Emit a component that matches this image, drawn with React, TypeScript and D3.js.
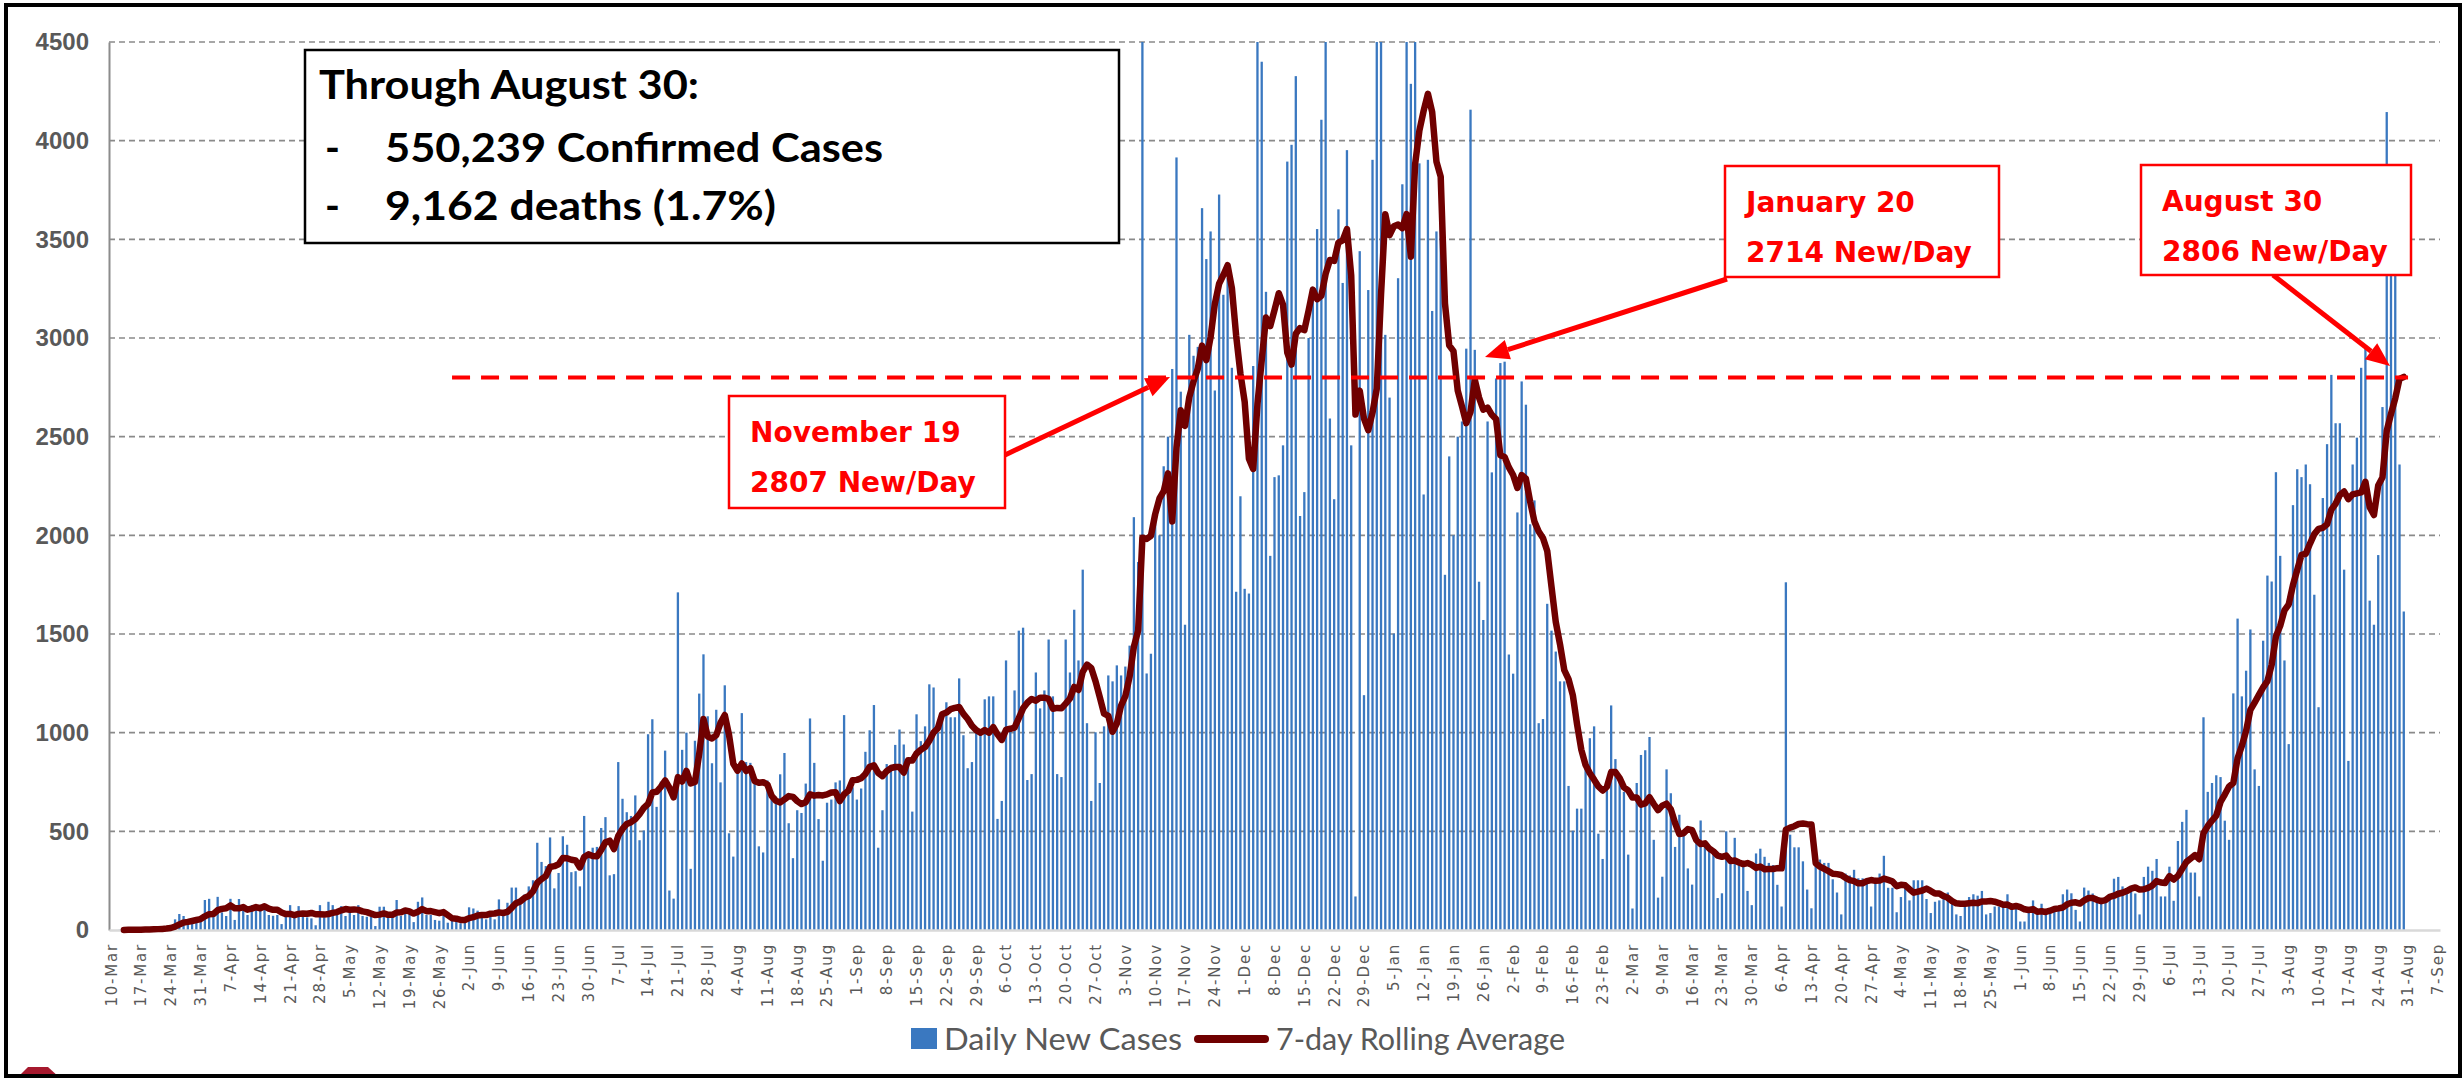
import React, { useEffect, useRef } from "react";
import * as d3 from "d3";

// Daily new cases. One row per week (Tue..Mon), first day 10-Mar-2020.
const casesMarJun2020 = [
  0, 0, 1, 1, 2, 2, 3,
  3, 4, 5, 6, 8, 10, 14,
  25, 54, 81, 71, 34, 42, 47,
  59, 152, 158, 76, 168, 89, 71,
  158, 51, 157, 118, 76, 126, 126,
  118, 121, 76, 72, 76, 30, 71,
  126, 76, 121, 88, 64, 59, 24,
  126, 64, 143, 126, 93, 121, 71,
  101, 76, 126, 71, 67, 67, 20,
  118, 118, 76, 71, 152, 71, 88,
  84, 40, 143, 165, 76, 76, 51,
  47, 76, 37, 54, 59, 34, 47,
  115, 109, 98, 71, 54, 84, 54,
];
const casesJunSep2020 = [
  155, 87, 138, 215, 215, 149, 180,
  221, 252, 442, 345, 324, 469, 211,
  289, 475, 432, 293, 298, 221, 578,
  386, 417, 421, 517, 572, 277, 283,
  851, 665, 597, 578, 682, 455, 504,
  992, 1068, 624, 752, 909, 200, 159,
  1711, 913, 1000, 310, 959, 1198, 1397,
  1083, 845, 1116, 748, 1240, 490, 372,
  841, 1099, 851, 847, 789, 424, 393,
  758, 696, 676, 789, 897, 541, 364,
  607, 593, 742, 1072, 847, 562, 351,
  645, 661, 748, 758, 1089, 686, 723,
  661, 717, 903, 1012, 1140, 417, 607,
  841, 826, 938, 1016, 940, 850, 600,
];
const casesSepDec2020 = [
  1093, 957, 1032, 1245, 1229, 1002, 1093,
  1154, 1078, 1078, 1275, 987, 820, 851,
  1002, 987, 1169, 1184, 1184, 563, 654,
  1366, 1017, 1214, 1517, 1532, 760, 790,
  1305, 1123, 1214, 1472, 1184, 790, 775,
  1472, 1305, 1623, 1366, 1826, 1048, 654,
  1002, 745, 1032, 1290, 1260, 1341, 1290,
  1335, 1441, 2092, 1865, 4550, 1300, 1400,
  2100, 2000, 2350, 2500, 2843, 3915, 2728,
  1547, 3016, 2910, 2955, 3658, 3400, 3540,
  2734, 3727, 3219, 3303, 2849, 1714, 2198,
  1729, 1705, 2858, 5600, 4400, 3234, 1896,
  2295, 2304, 2456, 3894, 3979, 4327, 2098,
  2219, 3000, 3200, 3552, 4106, 5100, 2592,
];
const casesDecMar2021 = [
  2183, 3652, 3279, 3952, 2456, 170, 3440,
  1190, 3243, 3903, 4800, 5800, 3016, 2698,
  1502, 3303, 3779, 5300, 4288, 6300, 3885,
  2207, 3903, 3137, 3540, 3754, 1800, 2400,
  2000, 2500, 2577, 2946, 4157, 2940, 1765,
  1571, 2577, 2319, 2795, 2873, 2880, 1396,
  1299, 2116, 2780, 2662, 2056, 2177, 1048,
  1069, 1653, 1517, 1411, 1260, 1260, 730,
  503, 615, 615, 866, 972, 1032, 488,
  360, 745, 1138, 866, 760, 700, 382,
  109, 745, 887, 911, 978, 457, 164,
  270, 814, 693, 421, 584, 488, 312,
  230, 457, 555, 448, 400, 388, 162,
  186, 500, 364, 467, 329, 329, 198,
];
const casesMarJun2021 = [
  126, 388, 412, 371, 340, 329, 229,
  119, 1762, 483, 419, 419, 348, 205,
  110, 388, 357, 340, 340, 257, 190,
  79, 286, 276, 305, 262, 262, 262,
  119, 257, 286, 376, 214, 214, 90,
  167, 238, 150, 252, 252, 252, 157,
  86, 143, 150, 162, 190, 138, 79,
  71, 143, 167, 181, 174, 198, 79,
  86, 119, 119, 119, 181, 119, 110,
  43, 43, 95, 150, 90, 133, 86,
  86, 102, 119, 181, 205, 186, 102,
];
const casesJunAug2021 = [
  43, 215, 200, 185, 139, 139, 139,
  154, 260, 269, 221, 200, 221, 185,
  79, 269, 321, 300, 360, 170, 170,
  321, 148, 451, 548, 609, 291, 291,
  170, 1078, 700, 745, 784, 775, 554,
  457, 1199, 1578, 1184, 1314, 1523, 814,
  730, 1466, 1796, 1766, 2320, 1896, 1366,
  942, 2153, 2335, 2295, 2359, 2259, 1699,
  1129, 2189, 2462, 2813, 2568, 2568, 1826,
  857, 2359, 2495, 2849, 2946, 1669, 1547,
  1900, 2650, 4145, 3450, 3500, 2359, 1614,
];

const dailyCases = [
  ...casesMarJun2020,
  ...casesJunSep2020,
  ...casesSepDec2020,
  ...casesDecMar2021,
  ...casesMarJun2021,
  ...casesJunAug2021,
];

const firstDay = new Date(2020, 2, 10);
const lastAxisDay = new Date(2021, 8, 7);
const yTicks = [0, 500, 1000, 1500, 2000, 2500, 3000, 3500, 4000, 4500];
const yMax = 4500;
const refLevel = 2800;
const refFrom = new Date(2020, 4, 29);
const refTo = new Date(2021, 7, 31);

const summaryTitle = "Through August 30:";
const summaryItems = ["550,239 Confirmed Cases", "9,162 deaths (1.7%)"];

const callouts = [
  { lines: ["November 19", "2807 New/Day"], box: [729, 396, 276, 112], from: [1005, 455], to: [1170, 377] },
  { lines: ["January 20", "2714 New/Day"], box: [1725, 166, 274, 111], from: [1727, 279], to: [1485, 357] },
  { lines: ["August 30", "2806 New/Day"], box: [2141, 165, 270, 110], from: [2273, 275], to: [2390, 366] },
];

const W = 2464;
const H = 1079;
const plot = { left: 109, right: 2440, top: 42, bottom: 930 };

export default function App() {
  const ref = useRef<SVGSVGElement>(null);

  useEffect(() => {
    const svg = d3.select(ref.current);
    svg.selectAll("*").remove();

    const days = d3.timeDay.range(firstDay, d3.timeDay.offset(lastAxisDay, 1));
    const fmt = d3.timeFormat("%-d-%b");
    const x = d3
      .scaleBand<number>()
      .domain(d3.range(days.length))
      .range([plot.left, plot.right])
      .paddingInner(0.46)
      .paddingOuter(0.23);
    const cx = (i: number) => (x(i) as number) + x.bandwidth() / 2;
    const y = d3.scaleLinear().domain([0, yMax]).range([plot.bottom, plot.top]);

    const rolling = dailyCases.map((_, i) =>
      i < 3 ? null : (d3.mean(dailyCases.slice(Math.max(0, i - 6), i + 1)) as number)
    );

    svg.append("rect").attr("width", W).attr("height", H).attr("fill", "#fff");

    // gridlines
    svg
      .append("g")
      .selectAll("line")
      .data(yTicks.filter((t) => t > 0))
      .join("line")
      .attr("x1", plot.left)
      .attr("x2", plot.right)
      .attr("y1", (d) => y(d))
      .attr("y2", (d) => y(d))
      .attr("stroke", "#8a8a8a")
      .attr("stroke-width", 1.6)
      .attr("stroke-dasharray", "6,4");

    // bars
    svg
      .append("g")
      .selectAll("rect")
      .data(dailyCases)
      .join("rect")
      .attr("x", (_, i) => x(i) as number)
      .attr("width", x.bandwidth())
      .attr("y", (d) => y(Math.min(d, yMax)))
      .attr("height", (d) => y(0) - y(Math.min(d, yMax)))
      .attr("fill", "#3a78c0");

    // y axis
    svg
      .append("g")
      .attr("transform", `translate(${plot.left},0)`)
      .call(
        d3
          .axisLeft(y)
          .tickValues(yTicks)
          .tickFormat(d3.format("d"))
          .tickSize(0)
          .tickSizeOuter(0)
          .tickPadding(20)
      )
      .call((g) => g.select(".domain").attr("stroke", "#8c8c8c").attr("stroke-width", 2))
      .call((g) =>
        g
          .selectAll("text")
          .attr("font-family", "Liberation Sans, Arial, sans-serif")
          .attr("font-weight", "bold")
          .attr("font-size", 24)
          .attr("fill", "#595959")
      );

    // x axis
    svg
      .append("g")
      .attr("transform", `translate(0,${plot.bottom})`)
      .call(
        d3
          .axisBottom(x)
          .tickValues(d3.range(0, days.length, 7))
          .tickFormat((i) => fmt(days[i as number]))
          .tickSize(0)
          .tickSizeOuter(0)
      )
      .call((g) => g.select(".domain").attr("stroke", "#d9d9d9").attr("stroke-width", 2.5))
      .call((g) =>
        g
          .selectAll("text")
          .attr("transform", "rotate(-90)")
          .attr("x", -13)
          .attr("y", 0)
          .attr("dy", "0.36em")
          .attr("text-anchor", "end")
          .attr("font-family", "DejaVu Sans, Verdana, sans-serif")
          .attr("font-size", 15)
          .attr("letter-spacing", 1.8)
          .attr("fill", "#595959")
      );

    // rolling average
    const line = d3
      .line<number | null>()
      .defined((d) => d !== null)
      .x((_, i) => cx(i))
      .y((d) => y(d as number));
    svg
      .append("path")
      .datum(rolling)
      .attr("d", line)
      .attr("fill", "none")
      .attr("stroke", "#700000")
      .attr("stroke-width", 6.5)
      .attr("stroke-linejoin", "round")
      .attr("stroke-linecap", "round");

    // reference level
    const iFrom = d3.timeDay.count(firstDay, refFrom);
    const iTo = d3.timeDay.count(firstDay, refTo);
    svg
      .append("line")
      .attr("x1", cx(iFrom))
      .attr("x2", cx(iTo))
      .attr("y1", y(refLevel))
      .attr("y2", y(refLevel))
      .attr("stroke", "#ff0000")
      .attr("stroke-width", 4)
      .attr("stroke-dasharray", "18,11");

    // summary box
    const sb = svg.append("g");
    sb.append("rect")
      .attr("x", 305)
      .attr("y", 50)
      .attr("width", 814)
      .attr("height", 193)
      .attr("fill", "#fff")
      .attr("stroke", "#000")
      .attr("stroke-width", 2.5);
    const sf = "Lato, Liberation Sans, sans-serif";
    sb.append("text")
      .attr("x", 319)
      .attr("y", 99)
      .attr("font-family", sf)
      .attr("font-weight", "bold")
      .attr("font-size", 40)
      .attr("textLength", 380)
      .attr("lengthAdjust", "spacingAndGlyphs")
      .text(summaryTitle);
    summaryItems.forEach((t, k) => {
      const by = 162 + k * 58;
      sb.append("text")
        .attr("x", 325)
        .attr("y", by)
        .attr("font-family", sf)
        .attr("font-weight", "bold")
        .attr("font-size", 40)
        .text("-");
      sb.append("text")
        .attr("x", 385)
        .attr("y", by)
        .attr("font-family", sf)
        .attr("font-weight", "bold")
        .attr("font-size", 40)
        .attr("textLength", k === 0 ? 498 : 391)
        .attr("lengthAdjust", "spacingAndGlyphs")
        .text(t);
    });

    // callouts
    callouts.forEach((c) => {
      const g = svg.append("g");
      const [fx, fy] = c.from;
      const [tx, ty] = c.to;
      const ang = Math.atan2(ty - fy, tx - fx);
      const hl = 24;
      const hw = 10;
      const bx = tx - hl * Math.cos(ang);
      const by = ty - hl * Math.sin(ang);
      g.append("line")
        .attr("x1", fx)
        .attr("y1", fy)
        .attr("x2", bx)
        .attr("y2", by)
        .attr("stroke", "#ff0000")
        .attr("stroke-width", 5);
      g.append("path")
        .attr(
          "d",
          `M${tx},${ty}L${bx - hw * Math.sin(ang)},${by + hw * Math.cos(ang)}L${bx + hw * Math.sin(ang)},${by - hw * Math.cos(ang)}Z`
        )
        .attr("fill", "#ff0000");
      const [x0, y0, w, h] = c.box;
      g.append("rect")
        .attr("x", x0)
        .attr("y", y0)
        .attr("width", w)
        .attr("height", h)
        .attr("fill", "#fff")
        .attr("stroke", "#ff0000")
        .attr("stroke-width", 2.5);
      c.lines.forEach((t, k) => {
        g.append("text")
          .attr("x", x0 + 21)
          .attr("y", y0 + 46 + k * 50)
          .attr("font-family", "DejaVu Sans, Verdana, sans-serif")
          .attr("font-weight", "bold")
          .attr("font-size", 28)
          .attr("fill", "#ff0000")
          .text(t);
      });
    });

    // legend
    const lg = svg
      .append("g")
      .attr("font-family", "Lato, Liberation Sans, sans-serif")
      .attr("font-size", 31)
      .attr("fill", "#595959");
    lg.append("rect").attr("x", 911).attr("y", 1028).attr("width", 26).attr("height", 21).attr("fill", "#3a78c0");
    lg.append("text")
      .attr("x", 944)
      .attr("y", 1050)
      .attr("textLength", 238)
      .attr("lengthAdjust", "spacingAndGlyphs")
      .text("Daily New Cases");
    lg.append("line")
      .attr("x1", 1198)
      .attr("x2", 1265)
      .attr("y1", 1039)
      .attr("y2", 1039)
      .attr("stroke", "#700000")
      .attr("stroke-width", 8)
      .attr("stroke-linecap", "round");
    lg.append("text")
      .attr("x", 1276)
      .attr("y", 1050)
      .attr("textLength", 289)
      .attr("lengthAdjust", "spacingAndGlyphs")
      .text("7-day Rolling Average");

    // frame and corner mark
    svg.append("path").attr("d", "M17,1078L28,1067L48,1067L60,1078Z").attr("fill", "#a6192e");
    svg
      .append("rect")
      .attr("x", 6)
      .attr("y", 5)
      .attr("width", 2454)
      .attr("height", 1071)
      .attr("fill", "none")
      .attr("stroke", "#000")
      .attr("stroke-width", 4);
  }, []);

  return (
    <svg
      ref={ref}
      width={W}
      height={H}
      viewBox={`0 0 ${W} ${H}`}
      style={{ position: "absolute", left: 0, top: 0, display: "block" }}
    />
  );
}
